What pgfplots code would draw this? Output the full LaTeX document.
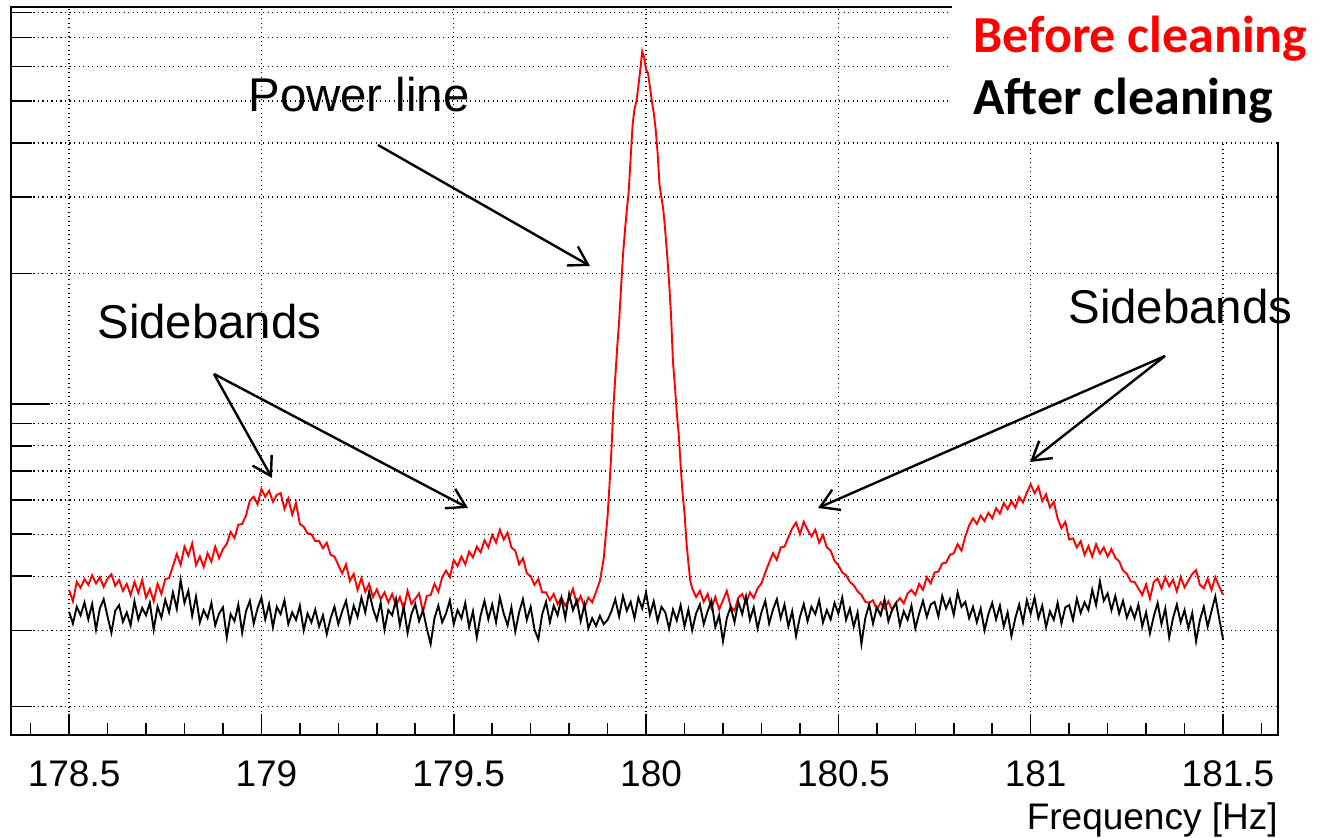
\documentclass[border=0pt]{standalone}
\usepackage{pgfplots}
\pgfplotsset{compat=1.18}
\usepackage{pgfplotstable}
\usepackage{fontspec}
\setmainfont{Liberation Sans}
\newfontfamily\calibri{Carlito}
\usetikzlibrary{arrows.meta}

\pgfplotstableread{
x y
178.50 0.372
178.51 0.350
178.52 0.388
178.53 0.376
178.54 0.394
178.55 0.382
178.56 0.402
178.57 0.385
178.58 0.398
178.59 0.378
178.60 0.395
178.61 0.404
178.62 0.380
178.63 0.392
178.64 0.370
178.65 0.384
178.66 0.362
178.67 0.388
178.68 0.366
178.69 0.392
178.70 0.357
178.71 0.374
178.72 0.350
178.73 0.384
178.74 0.364
178.75 0.394
178.76 0.396
178.77 0.422
178.78 0.450
178.79 0.425
178.80 0.468
178.81 0.446
178.82 0.476
178.83 0.424
178.84 0.444
178.85 0.420
178.86 0.452
178.87 0.432
178.88 0.468
178.89 0.440
178.90 0.462
178.91 0.475
178.92 0.506
178.93 0.490
178.94 0.526
178.95 0.528
178.96 0.552
178.97 0.598
178.98 0.610
178.99 0.586
179.00 0.636
179.01 0.610
179.02 0.630
179.03 0.594
179.04 0.616
179.05 0.622
179.06 0.572
179.07 0.604
179.08 0.555
179.09 0.590
179.10 0.528
179.11 0.520
179.12 0.502
179.13 0.500
179.14 0.482
179.15 0.482
179.16 0.464
179.17 0.478
179.18 0.448
179.19 0.444
179.20 0.424
179.21 0.406
179.22 0.426
179.23 0.390
179.24 0.405
179.25 0.372
179.26 0.396
179.27 0.368
179.28 0.384
179.29 0.358
179.30 0.373
179.31 0.354
179.32 0.367
179.33 0.348
179.34 0.364
179.35 0.342
179.36 0.358
179.37 0.336
179.38 0.370
179.39 0.345
179.40 0.355
179.41 0.365
179.42 0.331
179.43 0.360
179.44 0.362
179.45 0.384
179.46 0.368
179.47 0.398
179.48 0.412
179.49 0.398
179.50 0.436
179.51 0.422
179.52 0.444
179.53 0.426
179.54 0.456
179.55 0.442
179.56 0.468
179.57 0.454
179.58 0.484
179.59 0.466
179.60 0.498
179.61 0.478
179.62 0.512
179.63 0.486
179.64 0.504
179.65 0.466
179.66 0.458
179.67 0.426
179.68 0.440
179.69 0.406
179.70 0.400
179.71 0.382
179.72 0.394
179.73 0.367
179.74 0.367
179.75 0.352
179.76 0.364
179.77 0.345
179.78 0.357
179.79 0.342
179.80 0.354
179.81 0.374
179.82 0.345
179.83 0.360
179.84 0.339
179.85 0.357
179.86 0.348
179.87 0.368
179.88 0.390
179.89 0.440
179.90 0.550
179.905 0.650
179.91 0.780
179.915 0.980
179.92 1.150
179.925 1.350
179.93 1.550
179.935 1.850
179.94 2.200
179.945 2.500
179.95 2.800
179.955 3.100
179.96 3.700
179.965 4.400
179.97 4.800
179.975 5.000
179.98 5.400
179.985 5.900
179.99 6.500
179.995 6.300
180.00 5.900
180.005 5.800
180.01 5.400
180.015 5.000
180.02 4.700
180.025 4.300
180.03 3.800
180.035 3.200
180.04 3.000
180.045 2.800
180.05 2.500
180.055 2.200
180.06 1.900
180.065 1.600
180.07 1.250
180.075 1.100
180.08 0.950
180.085 0.850
180.09 0.720
180.095 0.620
180.10 0.560
180.105 0.480
180.11 0.430
180.115 0.390
180.12 0.375
180.13 0.358
180.14 0.370
180.15 0.349
180.16 0.364
180.17 0.337
180.18 0.358
180.19 0.335
180.20 0.352
180.21 0.370
180.22 0.340
180.23 0.333
180.24 0.357
180.25 0.364
180.26 0.346
180.27 0.367
180.28 0.356
180.29 0.375
180.30 0.385
180.31 0.408
180.32 0.430
180.33 0.452
180.34 0.436
180.35 0.466
180.36 0.468
180.37 0.492
180.38 0.516
180.39 0.532
180.40 0.500
180.41 0.534
180.42 0.512
180.43 0.494
180.44 0.512
180.45 0.478
180.46 0.498
180.47 0.466
180.48 0.458
180.49 0.434
180.50 0.424
180.51 0.408
180.52 0.402
180.53 0.388
180.54 0.381
180.55 0.369
180.56 0.362
180.57 0.349
180.58 0.347
180.59 0.352
180.60 0.335
180.61 0.348
180.62 0.337
180.63 0.350
180.64 0.334
180.65 0.347
180.66 0.356
180.67 0.346
180.68 0.365
180.69 0.372
180.70 0.362
180.71 0.384
180.72 0.372
180.73 0.398
180.74 0.385
180.75 0.408
180.76 0.410
180.77 0.428
180.78 0.430
180.79 0.448
180.80 0.452
180.81 0.474
180.82 0.458
180.83 0.494
180.84 0.524
180.85 0.544
180.86 0.528
180.87 0.552
180.88 0.536
180.89 0.560
180.90 0.544
180.91 0.574
180.92 0.558
180.93 0.590
180.94 0.571
180.95 0.596
180.96 0.576
180.97 0.610
180.98 0.592
180.99 0.624
181.00 0.652
181.01 0.622
181.02 0.644
181.03 0.596
181.04 0.618
181.05 0.576
181.06 0.594
181.07 0.544
181.08 0.516
181.09 0.534
181.10 0.486
181.11 0.489
181.12 0.466
181.13 0.482
181.14 0.448
181.15 0.469
181.16 0.444
181.17 0.474
181.18 0.451
181.19 0.466
181.20 0.444
181.21 0.462
181.22 0.441
181.23 0.433
181.24 0.412
181.25 0.405
181.26 0.389
181.27 0.388
181.28 0.375
181.29 0.362
181.30 0.383
181.31 0.355
181.32 0.388
181.33 0.395
181.34 0.375
181.35 0.398
181.36 0.379
181.37 0.393
181.38 0.369
181.39 0.398
181.40 0.377
181.41 0.391
181.42 0.405
181.43 0.413
181.44 0.382
181.45 0.375
181.46 0.395
181.47 0.372
181.48 0.398
181.49 0.379
181.50 0.362
}\redtable

\pgfplotstableread{
x y
178.50 0.331
178.51 0.311
178.52 0.340
178.53 0.325
178.54 0.348
178.55 0.318
178.56 0.345
178.57 0.301
178.58 0.337
178.59 0.354
178.60 0.323
178.61 0.296
178.62 0.333
178.63 0.343
178.64 0.314
178.65 0.330
178.66 0.308
178.67 0.350
178.68 0.318
178.69 0.338
178.70 0.325
178.71 0.347
178.72 0.301
178.73 0.340
178.74 0.321
178.75 0.353
178.76 0.330
178.77 0.367
178.78 0.336
178.79 0.392
178.80 0.347
178.81 0.370
178.82 0.324
178.83 0.359
178.84 0.313
178.85 0.334
178.86 0.320
178.87 0.347
178.88 0.308
178.89 0.328
178.90 0.339
178.91 0.289
178.92 0.327
178.93 0.315
178.94 0.344
178.95 0.296
178.96 0.332
178.97 0.351
178.98 0.311
178.99 0.337
179.00 0.357
179.01 0.318
179.02 0.345
179.03 0.305
179.04 0.340
179.05 0.327
179.06 0.352
179.07 0.310
179.08 0.330
179.09 0.317
179.10 0.342
179.11 0.300
179.12 0.328
179.13 0.313
179.14 0.335
179.15 0.306
179.16 0.325
179.17 0.294
179.18 0.320
179.19 0.340
179.20 0.310
179.21 0.332
179.22 0.351
179.23 0.313
179.24 0.342
179.25 0.322
179.26 0.357
179.27 0.330
179.28 0.368
179.29 0.337
179.30 0.317
179.31 0.347
179.32 0.301
179.33 0.334
179.34 0.325
179.35 0.354
179.36 0.308
179.37 0.340
179.38 0.296
179.39 0.327
179.40 0.345
179.41 0.315
179.42 0.334
179.43 0.303
179.44 0.279
179.45 0.320
179.46 0.342
179.47 0.313
179.48 0.328
179.49 0.352
179.50 0.310
179.51 0.334
179.52 0.320
179.53 0.347
179.54 0.305
179.55 0.332
179.56 0.289
179.57 0.325
179.58 0.351
179.59 0.318
179.60 0.344
179.61 0.313
179.62 0.357
179.63 0.328
179.64 0.308
179.65 0.339
179.66 0.298
179.67 0.330
179.68 0.354
179.69 0.317
179.70 0.340
179.71 0.301
179.72 0.286
179.73 0.327
179.74 0.349
179.75 0.313
179.76 0.342
179.77 0.325
179.78 0.356
179.79 0.320
179.80 0.364
179.81 0.334
179.82 0.352
179.83 0.315
179.84 0.344
179.85 0.303
179.86 0.320
179.87 0.307
179.88 0.324
179.89 0.310
179.90 0.317
179.91 0.332
179.92 0.354
179.93 0.323
179.94 0.360
179.95 0.333
179.96 0.349
179.97 0.320
179.98 0.357
179.99 0.337
180.00 0.367
180.01 0.326
180.02 0.350
180.03 0.315
180.04 0.340
180.05 0.330
180.06 0.303
180.07 0.335
180.08 0.316
180.09 0.343
180.10 0.306
180.11 0.335
180.12 0.300
180.13 0.328
180.14 0.344
180.15 0.310
180.16 0.332
180.17 0.351
180.18 0.305
180.19 0.325
180.20 0.283
180.21 0.320
180.22 0.340
180.23 0.313
180.24 0.349
180.25 0.327
180.26 0.359
180.27 0.317
180.28 0.339
180.29 0.303
180.30 0.330
180.31 0.351
180.32 0.311
180.33 0.335
180.34 0.354
180.35 0.320
180.36 0.344
180.37 0.306
180.38 0.332
180.39 0.291
180.40 0.322
180.41 0.345
180.42 0.315
180.43 0.340
180.44 0.327
180.45 0.352
180.46 0.313
180.47 0.334
180.48 0.318
180.49 0.347
180.50 0.328
180.51 0.357
180.52 0.317
180.53 0.337
180.54 0.306
180.55 0.330
180.56 0.279
180.57 0.320
180.58 0.344
180.59 0.311
180.60 0.339
180.61 0.325
180.62 0.354
180.63 0.315
180.64 0.335
180.65 0.347
180.66 0.308
180.67 0.332
180.68 0.317
180.69 0.342
180.70 0.303
180.71 0.328
180.72 0.351
180.73 0.322
180.74 0.344
180.75 0.349
180.76 0.323
180.77 0.360
180.78 0.337
180.79 0.354
180.80 0.326
180.81 0.367
180.82 0.340
180.83 0.349
180.84 0.320
180.85 0.340
180.86 0.313
180.87 0.337
180.88 0.300
180.89 0.327
180.90 0.347
180.91 0.318
180.92 0.342
180.93 0.306
180.94 0.330
180.95 0.291
180.96 0.320
180.97 0.344
180.98 0.313
180.99 0.352
181.00 0.328
181.01 0.357
181.02 0.320
181.03 0.342
181.04 0.305
181.05 0.332
181.06 0.317
181.07 0.347
181.08 0.311
181.09 0.339
181.10 0.343
181.11 0.317
181.12 0.355
181.13 0.329
181.14 0.348
181.15 0.334
181.16 0.372
181.17 0.343
181.18 0.389
181.19 0.351
181.20 0.365
181.21 0.334
181.22 0.360
181.23 0.328
181.24 0.351
181.25 0.321
181.26 0.339
181.27 0.320
181.28 0.344
181.29 0.306
181.30 0.330
181.31 0.295
181.32 0.323
181.33 0.347
181.34 0.310
181.35 0.337
181.36 0.289
181.37 0.320
181.38 0.344
181.39 0.313
181.40 0.334
181.41 0.303
181.42 0.329
181.43 0.283
181.44 0.317
181.45 0.340
181.46 0.306
181.47 0.332
181.48 0.359
181.49 0.320
181.50 0.286
}\blacktable

\begin{document}
\begin{tikzpicture}
\useasboundingbox (0,0) rectangle (660pt,419pt);
\begin{axis}[
  at={(5.5pt,51.5pt)}, anchor=south west,
  scale only axis, width=633.5pt, height=364pt,
  xmin=178.349, xmax=181.643,
  ymode=log, ymin=0.172, ymax=8.24,
  xtick={178.5,179,179.5,180,180.5,181,181.5},
  xticklabels={178.5,179,179.5,180,180.5,181,181.5},
  minor xtick={178.4,178.6,178.7,178.8,178.9,179.1,179.2,179.3,179.4,179.6,179.7,179.8,179.9,180.1,180.2,180.3,180.4,180.6,180.7,180.8,180.9,181.1,181.2,181.3,181.4,181.6},
  ytick={0.2,0.3,0.4,0.5,0.6,0.7,0.8,0.9,2,3,4,5,6,7,8},
  yticklabels={},
  minor y tick num=0,
  extra y ticks={1}, extra y tick labels={},
  extra y tick style={major tick length=19.5pt, grid=major},
  xtick pos=bottom, ytick pos=left, tick align=inside,
  major tick length=10.5pt, minor tick length=6pt,
  xmajorgrids, ymajorgrids,
  grid style={black, line width=0.65pt, dash pattern=on 0.65pt off 1.6pt},
  axis line style={line width=1pt},
  every tick/.style={black, line width=0.8pt},
  xticklabel style={font=\fontsize{18.5}{20}\selectfont, anchor=base, yshift=-26pt, xshift=2.5pt},
]
\addplot[red, line width=0.95pt] table[x=x,y=y] {\redtable};
\addplot[black, line width=0.95pt] table[x=x,y=y] {\blacktable};
\end{axis}
\fill[white] (476pt,348pt) rectangle (661pt,420pt);
\node[anchor=base west, inner sep=0, text=red, font=\calibri\bfseries\fontsize{26}{28}\selectfont] at (486.5pt,392.5pt) {Before cleaning};
\node[anchor=base west, inner sep=0, text=black, font=\calibri\bfseries\fontsize{26}{28}\selectfont] at (486.5pt,361.5pt) {After cleaning};
\node[anchor=base east, inner sep=0, font=\fontsize{18.5}{20}\selectfont] at (639pt,4pt) {Frequency [Hz]};
\node[anchor=base west, inner sep=0, font=\fontsize{23.7}{26}\selectfont] at (124pt,363pt) {Power line};
\node[anchor=base west, inner sep=0, font=\fontsize{23.7}{26}\selectfont] at (48.5pt,249.5pt) {Sidebands};
\node[anchor=base west, inner sep=0, font=\fontsize{23.7}{26}\selectfont] at (534pt,257pt) {Sidebands};
\begin{scope}[line width=1.2pt, -{Straight Barb[length=9pt,width=11pt]}]
\draw (189pt,346.5pt) -- (295pt,286pt);
\draw (107pt,232pt) -- (136pt,180pt);
\draw (107pt,232pt) -- (234pt,165pt);
\draw (582.5pt,241pt) -- (515pt,188pt);
\draw (582.5pt,241pt) -- (409pt,165pt);
\end{scope}
\end{tikzpicture}
\end{document}
